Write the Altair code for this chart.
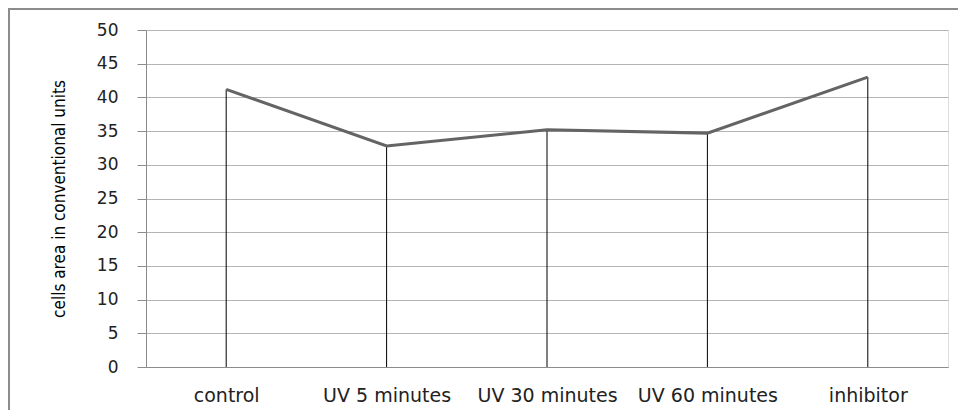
import altair as alt
import pandas as pd

categories = ["control", "UV 5 minutes", "UV 30 minutes", "UV 60 minutes", "inhibitor"]
values = [41.2, 32.8, 35.2, 34.7, 43.0]

df = pd.DataFrame({"cat": categories, "val": values})

W, H = 802, 337

xscale = alt.Scale(type="point", padding=0.5, domain=categories)
yscale = alt.Scale(domain=[0, 50], nice=False)

xenc = alt.X(
    "cat:N",
    scale=xscale,
    sort=categories,
    axis=alt.Axis(
        title=None,
        labelAngle=0,
        ticks=False,
        tickSize=0,
        labelPadding=19,
        labelFont="DejaVu Sans",
        labelFontSize=19,
        labelColor="#222222",
        domainColor="#8c8c8c",
        domainWidth=1,
        grid=False,
    ),
)

yenc = alt.Y(
    "val:Q",
    scale=yscale,
    axis=alt.Axis(
        title="cells area in conventional units",
        values=list(range(0, 51, 5)),
        tickSize=9,
        tickColor="#8c8c8c",
        labelPadding=19,
        labelFont="DejaVu Sans",
        labelFontSize=17,
        labelColor="#222222",
        domainColor="#8c8c8c",
        grid=True,
        gridColor="#b5b5b5",
        gridWidth=1,
        titleFont="Liberation Sans Narrow, DejaVu Sans Condensed, sans-serif",
        titleFontSize=17,
        titleFontWeight="normal",
        titleColor="#000000",
        titlePadding=28,
    ),
)

drops = alt.Chart(df).mark_rule(color="#000000", strokeWidth=1).encode(
    x=xenc, y=yenc, y2=alt.datum(0)
)

line = alt.Chart(df).mark_line(color="#646464", strokeWidth=3).encode(
    x=xenc, y=yenc
)

border = alt.Chart(pd.DataFrame({"a": [0]})).mark_rect(
    fill=None, stroke="#8c8c8c", strokeWidth=2, clip=False
).encode(
    x=alt.value(-137), x2=alt.value(840), y=alt.value(-21), y2=alt.value(420)
)

chart = alt.layer(drops, line, border).properties(
    width=W,
    height=H,
    autosize=alt.AutoSizeParams(type="none"),
    padding={"left": 138, "top": 22, "right": 10, "bottom": 43},
).configure_view(stroke=None).configure(background="white")

chart.save("out.html", embed_options={"renderer": "svg", "actions": False})
